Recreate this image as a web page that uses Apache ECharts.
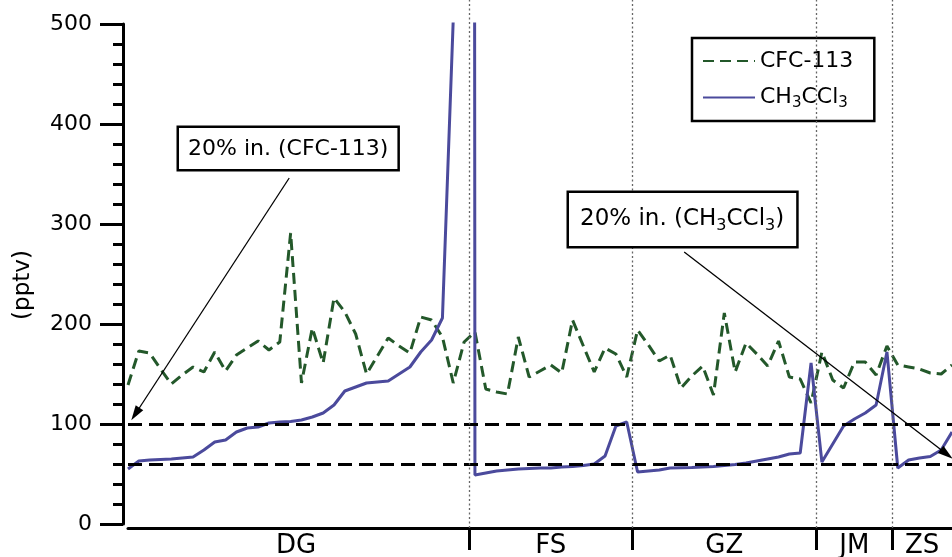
<!DOCTYPE html>
<html><head><meta charset="utf-8">
<script src="https://cdn.jsdelivr.net/npm/echarts@6/dist/echarts.min.js"></script>
<style>html,body{margin:0;padding:0;background:#fff}#c{width:952px;height:557px}</style>
</head><body><div id="c"></div>
<script>
// ---- data ----
const groups = ['DG', 'FS', 'GZ', 'JM', 'ZS'];
const groupBounds = [31.5, 46.5, 63.5, 70.5];      // sample-index boundaries between sites
const sampleMax = 76;                              // last sample index
const cfc113 = [139,173,171,155,140,149,157,152,172,153,169,176,183,174,182,291,141,196,161,226,
  212,190,150,168,186,178,171,207,204,187,141,182,192,135,132,130,187,147,153,159,
  151,204,178,152,176,170,147,194,179,163,169,136,148,158,129,211,152,181,170,158,
  183,147,145,121,172,144,136,162,162,149,178,159,157,155,151,150,159];
const ch3ccl3 = [55,63,64,64.5,65,66,67,74,82,84,92,96,97,101,102,102.5,104,107,111,119,
  133,137,141,142,143,150,157,172,184,206,505,15000,49,51,53,54,55,55.5,56,56,
  57,57.5,58.5,60,68,98,102,52,53,54,56,56.3,56.5,57,57.5,58.5,59.5,61,63,65,
  67,70,71,161,62,80,98,105,111,119,172,56,64,66,67.5,74,92];
const refLevels = [100, 60];                       // 20% increase reference levels
const yMin = 0, yMax = 500, yStep = 100;
// annotation arrows: [start, tip] in [sampleIndex, pptv]
const arrowCFC = [[14.87, 346], [0.68, 110]];
const arrowCH3 = [[51.3, 272], [75.5, 70]];

// ---- chart ----
const FONT = 'DejaVu Sans';
const GREEN = '#23582a', PURPLE = '#4b4a9c';
const edges = [-0.5].concat(groupBounds, [sampleMax + 0.5]);
const labelPos = groups.map((g, k) => (edges[k] + Math.min(edges[k + 1], sampleMax)) / 2);

const chart = echarts.init(document.getElementById('c'), null, {renderer: 'canvas'});
chart.setOption({
  animation: false,
  backgroundColor: '#fff',
  grid: [
    {left: 128, right: 0, top: 24, bottom: 33, containLabel: false, outerBoundsMode: 'none'},
    {left: 128, right: 0, top: 0, bottom: 29, containLabel: false, outerBoundsMode: 'none'}
  ],
  xAxis: [
    {type: 'value', gridIndex: 0, min: 0, max: sampleMax, offset: 4,
     axisLine: {show: true, onZero: false, lineStyle: {color: '#000', width: 3}},
     axisTick: {show: true, customValues: groupBounds, length: 22, lineStyle: {color: '#000', width: 3}},
     axisLabel: {customValues: labelPos, margin: 5, fontFamily: FONT, fontSize: 26, color: '#000',
       formatter: v => {
         let best = 0;
         labelPos.forEach((p, k) => { if (Math.abs(p - v) < Math.abs(labelPos[best] - v)) best = k; });
         return groups[best];
       }},
     splitLine: {show: false}},
    {type: 'value', gridIndex: 1, min: 0, max: sampleMax, show: false}
  ],
  yAxis: [
    {type: 'value', gridIndex: 0, min: yMin, max: yMax, interval: yStep, offset: 5,
     axisLine: {show: true, onZero: false, lineStyle: {color: '#000', width: 3}},
     axisTick: {show: true, length: 23, lineStyle: {color: '#000', width: 3}},
     minorTick: {show: true, splitNumber: 5, length: 10, lineStyle: {color: '#000', width: 3}},
     axisLabel: {margin: 31, fontFamily: FONT, fontSize: 22, color: '#000'},
     splitLine: {show: false}},
    {type: 'value', gridIndex: 1, min: 0, max: 1, show: false}
  ],
  legend: {
    orient: 'vertical', left: 692, top: 38,
    data: ['CFC-113', 'CH3CCl3'],
    backgroundColor: '#fff', borderColor: '#000', borderWidth: 2.5, borderRadius: 0,
    padding: [10, 21, 10, 10], itemWidth: 52, itemHeight: 14, itemGap: 10,
    itemStyle: {opacity: 0, borderWidth: 0},
    textStyle: {fontFamily: FONT, fontSize: 22, color: '#000', lineHeight: 26,
      rich: {a: {fontFamily: FONT, fontSize: 22, color: '#000', lineHeight: 26},
             s: {fontFamily: FONT, fontSize: 15, color: '#000', lineHeight: 15, padding: [12, 0, 0, 0]}}},
    formatter: n => n === 'CH3CCl3' ? '{a|CH}{s|3}{a|CCl}{s|3}' : n
  },
  graphic: [
    {type: 'text', x: 23, y: 285, rotation: Math.PI / 2, z: 100,
     style: {text: '(pptv)', fontSize: 23, fontFamily: FONT, fill: '#000', align: 'center', verticalAlign: 'middle'}},
    {type: 'text', x: 179, y: 128, z: 100,
     style: {text: '20% in. (CFC-113)', font: '22px "DejaVu Sans"', fill: '#000',
       backgroundColor: '#fff', borderColor: '#000', borderWidth: 2.5, padding: [10, 9, 9, 9],
       align: 'left', verticalAlign: 'top'}},
    {type: 'text', x: 569, y: 193, z: 100,
     style: {text: '{a|20% in. (CH}{s|3}{a|CCl}{s|3}{a|)}', fill: '#000',
       backgroundColor: '#fff', borderColor: '#000', borderWidth: 2.5, padding: [11, 12, 12, 11],
       align: 'left', verticalAlign: 'top',
       rich: {a: {font: '23px "DejaVu Sans"', fill: '#000', lineHeight: 30},
              s: {font: '16px "DejaVu Sans"', fill: '#000', lineHeight: 16, padding: [14, 0, 0, 0]}}}}
  ],
  series: [
    {name: 'CFC-113', type: 'line', xAxisIndex: 0, yAxisIndex: 0, symbol: 'none', z: 3,
     data: cfc113.map((v, i) => [i, v]),
     lineStyle: {color: GREEN, width: 3, type: [11, 6]}, itemStyle: {color: GREEN},
     markLine: {silent: true, symbol: ['none', 'none'], label: {show: false},
       lineStyle: {color: '#000', width: 3, type: [14, 7]},
       data: refLevels.map(v => ({yAxis: v}))}},
    {name: 'CH3CCl3', type: 'line', xAxisIndex: 0, yAxisIndex: 0, symbol: 'none', z: 4,
     data: ch3ccl3.map((v, i) => [i, v]),
     lineStyle: {color: PURPLE, width: 3}, itemStyle: {color: PURPLE}},
    {name: 'arrows', type: 'line', xAxisIndex: 0, yAxisIndex: 0, data: [], z: 5,
     markLine: {silent: true, symbol: ['none', 'triangle'], symbolSize: [9, 15], label: {show: false},
       lineStyle: {color: '#000', width: 1.3, type: 'solid'}, itemStyle: {color: '#000'},
       data: [arrowCFC, arrowCH3].map(a => [{coord: a[0]}, {coord: a[1]}])}},
    {name: 'sites', type: 'line', xAxisIndex: 1, yAxisIndex: 1, data: [], z: 1,
     markLine: {silent: true, symbol: ['none', 'none'], label: {show: false},
       lineStyle: {color: '#666', width: 1.3, type: [2, 2.5]},
       data: groupBounds.map(b => ({xAxis: b}))}}
  ]
});
</script></body></html>
